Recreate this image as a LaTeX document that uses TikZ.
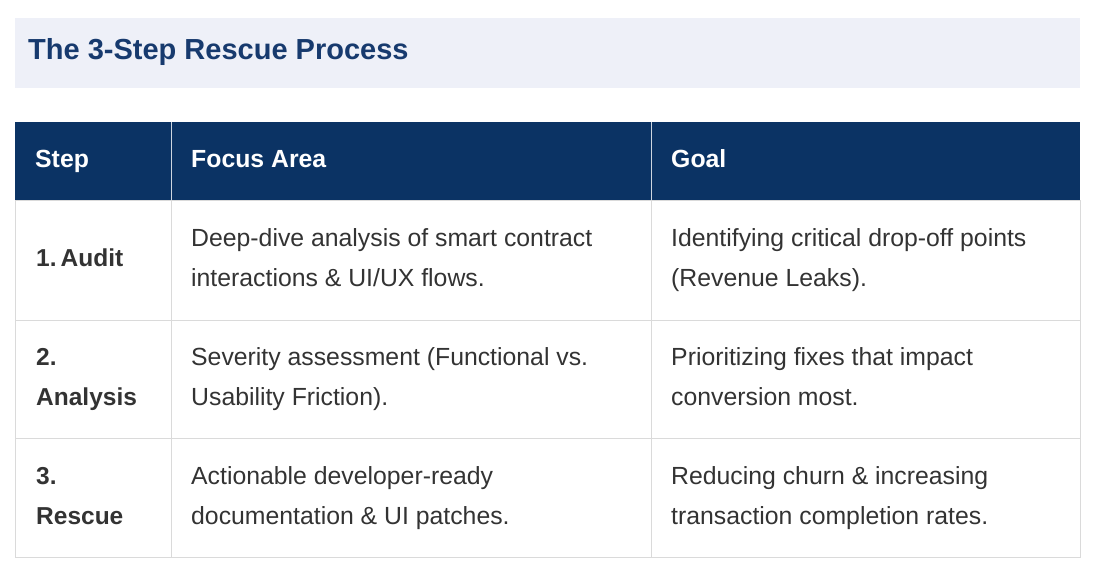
\documentclass[tikz,border=0pt]{standalone}
\usepackage{fontspec}
\setmainfont{Liberation Sans}
\definecolor{navy}{HTML}{0B3364}
\definecolor{titlebg}{HTML}{EEF0F8}
\definecolor{titlefg}{HTML}{173A6E}
\definecolor{grid}{HTML}{DADADA}
\definecolor{txt}{HTML}{333333}
\begin{document}
\begin{tikzpicture}[x=1pt,y=-1pt,
  cell/.style={anchor=west,align=left,font=\fontsize{24.8}{40}\selectfont,text=txt,inner sep=0pt},
  stepcell/.style={cell,font=\fontsize{24.5}{40}\selectfont\bfseries},
  head/.style={anchor=west,font=\fontsize{24.8}{28}\selectfont\bfseries,text=white,inner sep=0pt}]
\useasboundingbox (0,0) rectangle (1100,575);
\fill[titlebg] (15,18) rectangle (1080,88);
\node[anchor=west,inner sep=0pt,font=\fontsize{29}{34}\selectfont\bfseries,text=titlefg] (title) at (28,53) {The 3-Step Rescue Process\strut};
\fill[navy] (15,122) rectangle (1080,200);
\draw[grid] (15,200) rectangle (1080,557);
\draw[grid] (15,320) -- (1080,320) (15,438) -- (1080,438);
\draw[grid] (171,200) -- (171,557) (651,200) -- (651,557);
\draw[white!80!navy] (171,122) -- (171,200) (651,122) -- (651,200);
\node[head] (h1) at (35,162) {Step\strut};
\node[head] (h2) at (191,162) {Focus Area\strut};
\node[head] (h3) at (671,162) {Goal\strut};
\node[stepcell] (s1) at (36,258) {1.\,Audit\strut};
\node[cell] (f1) at (191,258) {Deep-dive analysis of smart contract\strut\\interactions \& UI/UX flows.\strut};
\node[cell] (g1) at (671,258) {Identifying critical drop-off points\strut\\(Revenue Leaks).\strut};
\node[stepcell] (s2) at (36,377) {2.\strut\\Analysis\strut};
\node[cell] (f2) at (191,377) {Severity assessment (Functional vs.\strut\\Usability Friction).\strut};
\node[cell] (g2) at (671,377) {Prioritizing fixes that impact\strut\\conversion most.\strut};
\node[stepcell] (s3) at (36,496) {3.\strut\\Rescue\strut};
\node[cell] (f3) at (191,496) {Actionable developer-ready\strut\\documentation \& UI patches.\strut};
\node[cell] (g3) at (671,496) {Reducing churn \& increasing\strut\\transaction completion rates.\strut};
\end{tikzpicture}
\end{document}
